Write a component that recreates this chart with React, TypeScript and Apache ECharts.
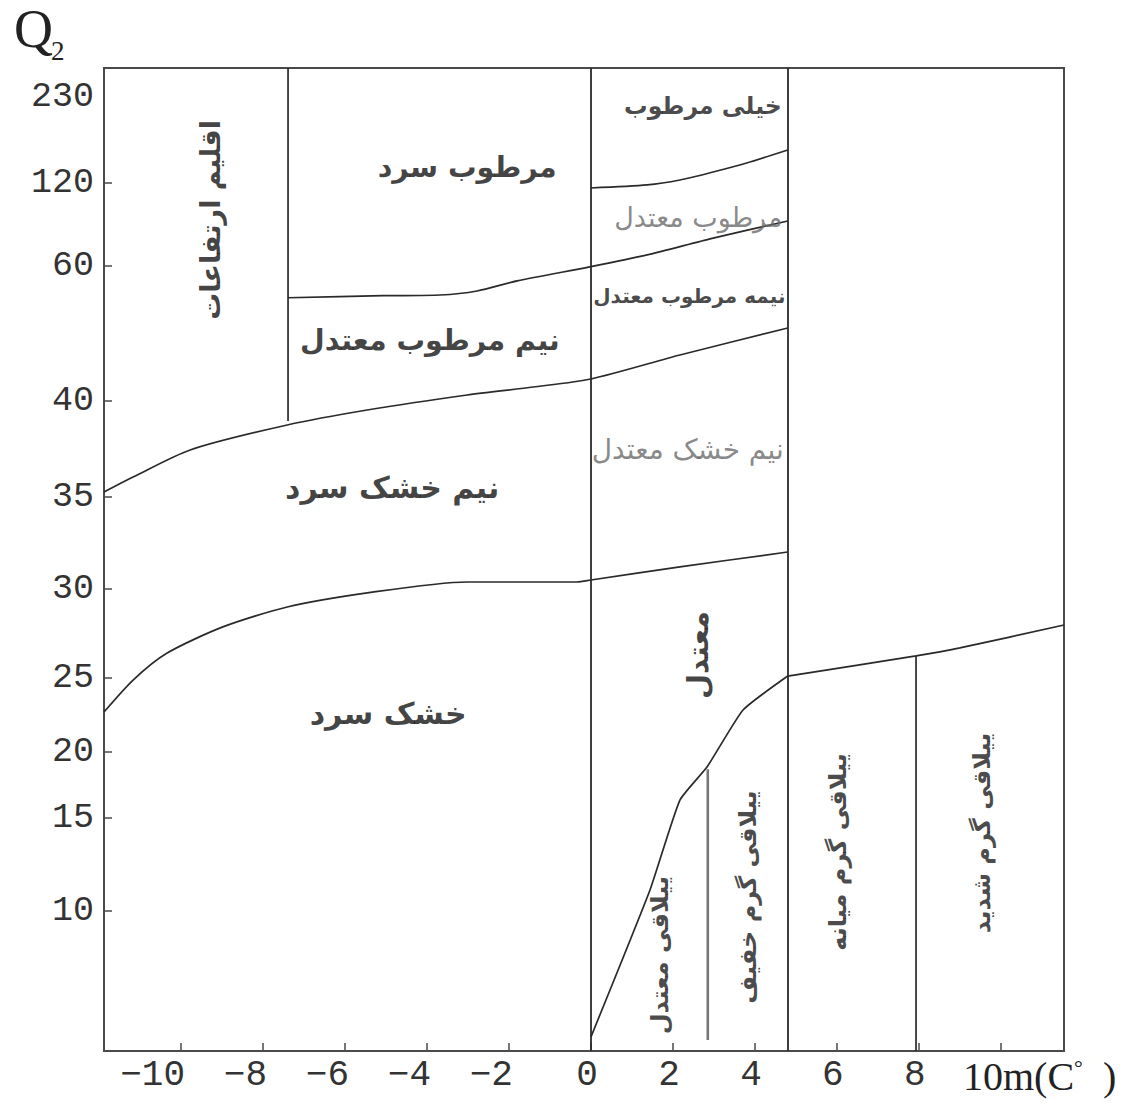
import React, { useEffect, useRef } from "react";
import * as echarts from "echarts";

// ---- Axis scale definition (Emberger Q2 scale is non-linear) ----
const yTickQ = [10, 15, 20, 25, 30, 35, 40, 60, 120, 230];
const yTickPos = [140, 233, 299, 373, 462, 554, 650, 785, 868, 954];
const xTickVals = [-10, -8, -6, -4, -2, 0, 2, 4, 6, 8, 10];
const xNegLabelVals = [-10, -8, -6, -4, -2];
const xPosLabelVals = [0, 2, 4, 6, 8];

// ---- Boundary curves (x = m °C, Q2) ----
const veryHumidX = [0, 1.37, 2.17, 2.98, 3.8, 4.8];
const veryHumidQ = [116.4, 118.6, 123.8, 134.1, 145.6, 162.2];

const humidX = [-7.39, -5.07, -3.68, -2.78, -1.8, 0, 1.37, 2.98, 4.8];
const humidQ = [55.3, 55.6, 55.7, 56.3, 57.8, 59.9, 68.0, 80.2, 92.5];

const subHumidX = [-11.88, -11.17, -9.78, -7.41, -5.46, -3.02, -1.41, 0, 2.17, 4.8];
const subHumidQ = [35.26, 36.04, 37.45, 38.75, 39.53, 40.89, 42.07, 43.26, 46.81, 50.81];

const semiAridX = [-11.88, -11.17, -10.34, -8.98, -7.41, -5.46, -3.02, -0.34, 0, 2.17, 4.8];
const semiAridQ = [22.7, 24.86, 26.4, 27.87, 28.99, 29.78, 30.38, 30.38, 30.49, 31.2, 32.01];

const aridX = [0, 1.44, 2.17, 2.83, 3.71, 4.8];
const aridQ = [3.23, 11.13, 16.36, 18.86, 22.84, 25.11];
const aridEastX = [4.8, 7.93, 9.0, 11.54];
const aridEastQ = [25.11, 26.24, 26.69, 27.98];

// partial vertical dividers
const dividerX = [-7.39, 2.85, 7.93];
const dividerLowQ = [38.96, 3.06, 2.47];
const dividerHighQ = [267, 18.7, 26.24];
// full-height dividers
const fullDividerX = [0, 4.8];

// ---- Zone labels ----
const zoneNames = [
  "مرطوب سرد",
  "نیم مرطوب معتدل",
  "اقلیم ارتفاعات",
  "خیلی مرطوب",
  "مرطوب معتدل",
  "نیمه مرطوب معتدل",
  "نیم خشک معتدل",
  "نیم خشک سرد",
  "معتدل",
  "خشک سرد",
  "ییلاقی معتدل",
  "ییلاقی گرم خفیف",
  "ییلاقی گرم میانه",
  "ییلاقی گرم شدید",
];
const zoneX = [-3.02, -3.93, -9.29, 2.73, 2.62, 2.4, 2.36, -4.85, 2.61, -4.95, 1.68, 3.83, 6.02, 9.54];
const zoneQ = [139.2, 48.9, 93.3, 218.5, 94.7, 55.6, 37.45, 35.52, 26.29, 22.57, 7.63, 10.75, 13.17, 14.19];

function qToPos(q: number): number {
  const n = yTickQ.length;
  let i = 0;
  if (q <= yTickQ[0]) i = 0;
  else if (q >= yTickQ[n - 1]) i = n - 2;
  else {
    for (let k = 0; k < n - 1; k++) {
      if (q >= yTickQ[k] && q < yTickQ[k + 1]) {
        i = k;
        break;
      }
    }
  }
  return yTickPos[i] + ((q - yTickQ[i]) * (yTickPos[i + 1] - yTickPos[i])) / (yTickQ[i + 1] - yTickQ[i]);
}

const LINE = "#2a2a2a";
const AXIS = "#4a4a4a";
const FA = "'DejaVu Sans', 'Noto Sans', sans-serif";
const X_MIN = -11.88;
const X_MAX = 11.54;

function zoneStyle(i: number) {
  if (i === 0 || i === 1) return { fontSize: 28.5, fontWeight: "bold", color: "#111", rotate: 0 };
  if (i === 7 || i === 9) return { fontSize: 30, fontWeight: "bold", color: "#111", rotate: 0 };
  if (i === 2) return { fontSize: 27, fontWeight: "bold", color: "#111", rotate: 90 };
  if (i === 8) return { fontSize: 29, fontWeight: "bold", color: "#111", rotate: 90 };
  if (i >= 10) return { fontSize: 24, fontWeight: "bold", color: "#1a1a1a", rotate: 90 };
  if (i === 4) return { fontSize: 27, fontWeight: "normal", color: "#6a6a6a", rotate: 0 };
  if (i === 6) return { fontSize: 28, fontWeight: "normal", color: "#6a6a6a", rotate: 0 };
  if (i === 3) return { fontSize: 23.5, fontWeight: "bold", color: "#1a1a1a", rotate: 0 };
  return { fontSize: 20, fontWeight: "bold", color: "#1a1a1a", rotate: 0 };
}

function curveSeries(xs: number[], qs: number[], smooth: number) {
  return {
    type: "line",
    data: xs.map((x, i) => [x, qToPos(qs[i])]),
    symbol: "none",
    smooth,
    silent: true,
    lineStyle: { color: LINE, width: 1.7 },
    z: 3,
  };
}

const labelFont = {
  fontFamily: "'Liberation Mono', monospace",
  fontSize: 36,
  color: "#333",
};

export default function App() {
  const ref = useRef<HTMLDivElement>(null);
  useEffect(() => {
    if (!ref.current) return;
    const chart = echarts.init(ref.current, null, { renderer: "svg" });

    const series: any[] = [
      curveSeries(veryHumidX, veryHumidQ, 0.25),
      curveSeries(humidX, humidQ, 0.25),
      curveSeries(subHumidX, subHumidQ, 0.25),
      curveSeries(semiAridX, semiAridQ, 0.25),
      curveSeries(aridX, aridQ, 0.15),
      curveSeries(aridEastX, aridEastQ, 0.2),
    ];
    dividerX.forEach((x, i) => {
      series.push({
        type: "line",
        data: [
          [x, qToPos(dividerLowQ[i])],
          [x, qToPos(dividerHighQ[i])],
        ],
        symbol: "none",
        silent: true,
        lineStyle: i === 1 ? { color: "#777", width: 2.6 } : { color: LINE, width: 1.7 },
        z: 3,
      });
    });
    series.push({
      type: "line",
      data: [],
      symbol: "none",
      markLine: {
        silent: true,
        symbol: ["none", "none"],
        label: { show: false },
        lineStyle: { color: LINE, width: 1.8, type: "solid" },
        data: fullDividerX.map((x) => ({ xAxis: x })),
      },
    });
    series.push({
      type: "scatter",
      symbolSize: 0,
      silent: true,
      data: zoneNames.map((name, i) => {
        const st = zoneStyle(i);
        return {
          value: [zoneX[i], qToPos(zoneQ[i])],
          label: {
            show: true,
            position: "inside",
            formatter: name,
            fontFamily: FA,
            fontSize: st.fontSize,
            fontWeight: st.fontWeight,
            color: st.color,
            rotate: st.rotate,
            align: "center",
            verticalAlign: "middle",
          },
        };
      }),
      z: 5,
    });

    const option: any = {
      animation: false,
      backgroundColor: "#fff",
      grid: {
        left: 104,
        right: 68,
        top: 68,
        bottom: 53,
        show: true,
        borderColor: AXIS,
        borderWidth: 2,
        outerBoundsMode: "none",
        containLabel: false,
      },
      xAxis: [
        {
          type: "value",
          min: X_MIN,
          max: X_MAX,
          axisLine: { show: true, onZero: false, lineStyle: { color: AXIS, width: 2 } },
          axisTick: {
            show: true,
            inside: true,
            length: 8,
            customValues: xTickVals,
            lineStyle: { color: AXIS, width: 1.5 },
          },
          axisLabel: {
            customValues: xPosLabelVals,
            showMinLabel: true,
            showMaxLabel: true,
            formatter: (v: number) => String(v),
            ...labelFont,
            margin: 6,
            padding: [0, 8, 0, 0],
          },
          splitLine: { show: false },
        },
        {
          type: "value",
          position: "bottom",
          min: X_MIN,
          max: X_MAX,
          axisLine: { show: false, onZero: false },
          axisTick: { show: false },
          axisLabel: {
            customValues: xNegLabelVals,
            showMinLabel: true,
            showMaxLabel: true,
            formatter: (v: number) => "\u2212" + Math.abs(v),
            ...labelFont,
            align: "right",
            margin: 6,
            padding: [0, -4, 0, 0],
          },
          splitLine: { show: false },
        },
      ],
      yAxis: {
        type: "value",
        min: 0,
        max: 983,
        axisLine: { show: true, onZero: false, lineStyle: { color: AXIS, width: 2 } },
        axisTick: {
          show: true,
          inside: true,
          length: 8,
          customValues: yTickPos.slice(0, yTickPos.length - 1),
          lineStyle: { color: AXIS, width: 1.5 },
        },
        axisLabel: {
          customValues: yTickPos,
          showMinLabel: true,
          showMaxLabel: true,
          formatter: (v: number) => {
            const i = yTickPos.indexOf(v);
            return i >= 0 ? String(yTickQ[i]) : "";
          },
          fontFamily: "'Liberation Mono', monospace",
          fontSize: 35,
          color: "#333",
          margin: 10,
        },
        splitLine: { show: false },
      },
      graphic: [
        {
          type: "text",
          left: 14,
          top: 2,
          style: {
            text: "Q",
            fontFamily: "'Liberation Serif', serif",
            fontSize: 54,
            fill: "#222",
          },
        },
        {
          type: "text",
          left: 51,
          top: 37,
          style: {
            text: "2",
            fontFamily: "'Liberation Serif', serif",
            fontSize: 27,
            fill: "#222",
          },
        },
        {
          type: "text",
          left: 963,
          top: 1056,
          style: {
            text: "{a|10m(C}{b|°}{a|  )}",
            rich: {
              a: { fontFamily: "'Liberation Serif', serif", fontSize: 40, fill: "#222" },
              b: { fontFamily: "'Liberation Serif', serif", fontSize: 22, fill: "#222", padding: [0, 0, 18, 0] },
            },
          },
        },
      ],
      series,
    };
    chart.setOption(option);
    return () => chart.dispose();
  }, []);

  return (
    <div
      ref={ref}
      style={{ position: "fixed", left: 0, top: 0, width: 1132, height: 1104, background: "#fff" }}
    />
  );
}
